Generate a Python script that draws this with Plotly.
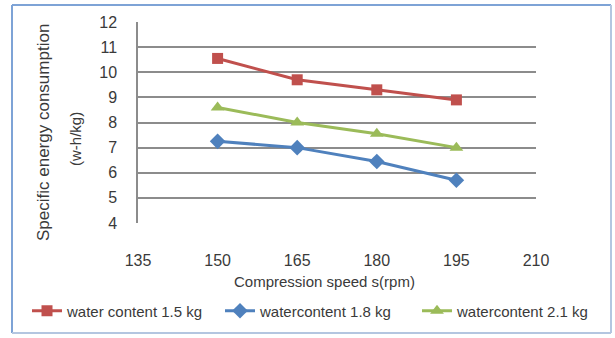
import plotly.graph_objects as go

# Compression speed (rpm)
speeds = [150, 165, 180, 195]

# Specific energy consumption (w-h/kg) per water content
sec_15 = [10.55, 9.7, 9.3, 8.9]
sec_18 = [7.25, 7.0, 6.45, 5.7]
sec_21 = [8.6, 8.0, 7.55, 7.0]

series_names = ["water content 1.5 kg", "watercontent 1.8 kg", "watercontent 2.1 kg"]
x_ticks = [135, 150, 165, 180, 195, 210]
y_ticks = [4, 5, 6, 7, 8, 9, 10, 11, 12]

W, H = 615, 338
ML, MR, MT, MB = 138, 79, 22, 115
FONT = "Liberation Sans, Arial, sans-serif"
TXT = "#3A3A3A"

pw = W - ML - MR
ph = H - MT - MB


def px_x(v):
    return (v - ML) / pw


def px_y(v):
    return (H - MB - v) / ph


fig = go.Figure()
styles = [
    (sec_15, "#C0504D", "square", 11, "legend", 27),
    (sec_18, "#4F81BD", "diamond", 12, "legend2", 220),
    (sec_21, "#9BBB59", "triangle-up", 12, "legend3", 417),
]
legends = {}
for name, (vals, col, sym, ms, leg, lx) in zip(series_names, styles):
    fig.add_trace(go.Scatter(
        x=speeds, y=vals, name=name, mode="lines+markers", legend=leg,
        line=dict(color=col, width=3),
        marker=dict(symbol=sym, size=ms, color=col, line=dict(width=0)),
    ))
    # one single-entry legend per series, laid out in a row below the axis title
    legends[leg] = dict(
        orientation="h", xref="container", yref="container",
        x=lx / W, xanchor="left", y=1 - 311 / H, yanchor="middle",
        font=dict(size=15, color=TXT), bgcolor="rgba(0,0,0,0)", borderwidth=0,
    )

fig.update_layout(
    width=W, height=H,
    margin=dict(l=ML, r=MR, t=MT, b=MB, autoexpand=False),
    paper_bgcolor="white", plot_bgcolor="white",
    font=dict(family=FONT, color=TXT, size=15),
    showlegend=True,
    xaxis=dict(
        range=[135, 210], tickvals=x_ticks, showgrid=False, zeroline=False,
        showline=False, ticks="", tickfont=dict(size=16, color=TXT),
        ticklabelstandoff=26,
    ),
    yaxis=dict(
        range=[4, 12], tickvals=y_ticks, showgrid=True, gridcolor="#8C8C8C",
        gridwidth=1.5, zeroline=False, showline=True, linecolor="#8C8C8C",
        linewidth=1.5, ticks="", tickfont=dict(size=16, color=TXT),
        ticklabelstandoff=16,
    ),
    **legends,
)

# x-axis title
fig.add_annotation(x=px_x(324), y=px_y(281), xref="paper", yref="paper",
                   xanchor="center", yanchor="middle",
                   text="Compression speed s(rpm)", showarrow=False,
                   font=dict(size=15, color=TXT))

# Two-line rotated y-axis title
fig.add_annotation(x=px_x(43), y=px_y(133), xref="paper", yref="paper",
                   xanchor="center", yanchor="middle",
                   text="Specific energy consumption", textangle=-90, showarrow=False,
                   font=dict(size=17, color=TXT))
fig.add_annotation(x=px_x(75), y=px_y(139), xref="paper", yref="paper",
                   xanchor="center", yanchor="middle",
                   text="(w-h/kg)", textangle=-90, showarrow=False,
                   font=dict(size=15, color=TXT))

# Chart frame
fig.add_shape(type="line", xref="paper", yref="paper", x0=px_x(12), x1=px_x(611),
              y0=px_y(5), y1=px_y(5), line=dict(color="#7EA3D6", width=2))
fig.add_shape(type="line", xref="paper", yref="paper", x0=px_x(12), x1=px_x(12),
              y0=px_y(5), y1=px_y(333), line=dict(color="#7EA3D6", width=2))
fig.add_shape(type="line", xref="paper", yref="paper", x0=px_x(611), x1=px_x(611),
              y0=px_y(5), y1=px_y(333), line=dict(color="#B4C6E0", width=2))
fig.add_shape(type="line", xref="paper", yref="paper", x0=px_x(12), x1=px_x(611),
              y0=px_y(333), y1=px_y(333), line=dict(color="#B4C6E0", width=2))

fig.write_html("out.html")
